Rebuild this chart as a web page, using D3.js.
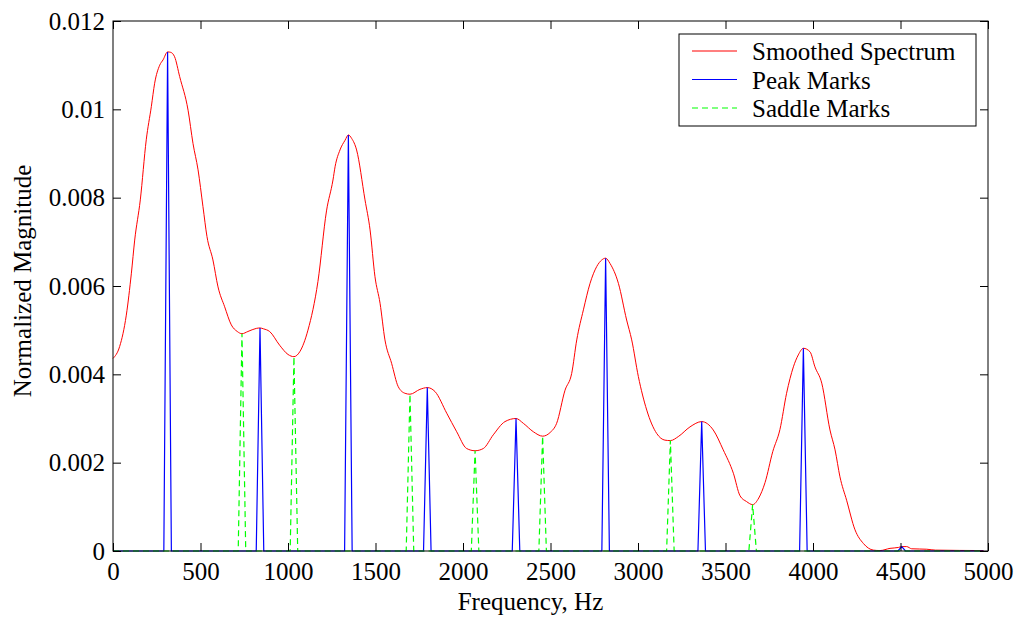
<!DOCTYPE html>
<html>
<head>
<meta charset="utf-8">
<script src="https://cdnjs.cloudflare.com/ajax/libs/d3/7.8.5/d3.min.js"></script>
<style>
  body { margin: 0; background: #fff; }
  svg text { font-family: "Liberation Serif", Tinos, "Times New Roman", Times, "DejaVu Serif", serif; fill: #000; }
</style>
</head>
<body>
<div id="chart"></div>
<script>
// Smoothed spectrum (Hz, normalized magnitude)
const specFreq = [0, 38, 76, 105, 124, 156, 190, 219, 238, 267, 286, 312, 330, 352, 381, 429, 457, 486, 514, 537,
  571, 600, 638, 676, 710, 737, 771, 819, 840, 860, 895, 952, 1000, 1034, 1067, 1114, 1171, 1220, 1257, 1269,
  1297, 1326, 1345, 1364, 1392, 1440, 1469, 1497, 1526, 1554, 1592, 1630, 1669, 1697, 1754, 1796, 1840, 1907,
  1964, 2021, 2069, 2116, 2173, 2240, 2303, 2345, 2402, 2455, 2497, 2535, 2583, 2621, 2650, 2688, 2726, 2764,
  2793, 2815, 2840, 2888, 2935, 2964, 3002, 3050, 3107, 3154, 3185, 3230, 3297, 3364, 3430, 3487, 3545, 3583,
  3620, 3655, 3690, 3726, 3770, 3811, 3849, 3888, 3916, 3945, 3983, 4011, 4050, 4097, 4126, 4154, 4192, 4240,
  4288, 4345, 4383, 4440, 4488, 4507, 4535, 4564, 4650, 4700, 4974];
const specVal = [0.00436, 0.00463, 0.00534, 0.00629, 0.00704, 0.00795, 0.00931, 0.01006, 0.01059, 0.0110, 0.01112,
  0.0113, 0.01129, 0.01119, 0.01074, 0.00998, 0.00923, 0.00863, 0.0078, 0.00712,
  0.00659, 0.00598, 0.00553, 0.00512, 0.00497, 0.00492, 0.00497, 0.00504, 0.00505, 0.00503, 0.00497, 0.00466,
  0.00445, 0.0044, 0.00451, 0.005, 0.0061, 0.0077, 0.0084, 0.0087,
  0.00908, 0.0093, 0.00942, 0.00934, 0.00908, 0.00795, 0.00727, 0.00621, 0.00561, 0.00478, 0.00425, 0.00372,
  0.00357, 0.00355, 0.00366, 0.0037, 0.00361, 0.00312,
  0.0027, 0.00232, 0.00227, 0.00232, 0.00263, 0.00293, 0.003, 0.00289, 0.0027, 0.0026, 0.00268, 0.00289, 0.00364,
  0.00402, 0.00478, 0.00546, 0.00606, 0.00644,
  0.00659, 0.00663, 0.00651, 0.00606, 0.00523, 0.00478, 0.00395, 0.00319, 0.00266, 0.00251, 0.0025, 0.00259,
  0.00281, 0.00293, 0.00274, 0.00229, 0.00176, 0.00125,
  0.00112, 0.00105, 0.0012, 0.00155, 0.00225, 0.00275, 0.00357, 0.00417, 0.00444, 0.00459, 0.00451, 0.00417,
  0.0038, 0.00274, 0.00229, 0.00168, 0.00115, 0.00048,
  0.00017, 0.00002, 0.00001, 0.00006, 0.00008, 0.0001, 0.0001, 0.00005, 0.00004, 0.00002, 0.00001];

// Peak and saddle marks
const peakFreq = [312, 840, 1345, 1796, 2303, 2815, 3364, 3945, 4507];
const peakVal = [0.0113, 0.00505, 0.00942, 0.0037, 0.003, 0.00663, 0.00293, 0.00459, 0.0001];
const saddleFreq = [737, 1034, 1697, 2069, 2455, 3185, 3655];
const saddleVal = [0.00492, 0.0044, 0.00355, 0.00227, 0.0026, 0.0025, 0.00105];

// FFT bin width (11025 Hz / 512)
const binHz = 21.53;
const lastFreq = 4974;

const xTicks = [0, 500, 1000, 1500, 2000, 2500, 3000, 3500, 4000, 4500, 5000];
const yTicks = [0, 0.002, 0.004, 0.006, 0.008, 0.01, 0.012];
const legendLabels = ["Smoothed Spectrum", "Peak Marks", "Saddle Marks"];

const margin = {top: 21, right: 33, bottom: 67, left: 113},
    width = 1021 - margin.left - margin.right,
    height = 618 - margin.top - margin.bottom;

const svg = d3.select("#chart")
  .append("svg")
    .attr("width", 1021)
    .attr("height", 618)
  .append("g")
    .attr("transform", `translate(${margin.left},${margin.top})`);

const x = d3.scaleLinear().domain([0, 5000]).range([0, width]);
const y = d3.scaleLinear().domain([0, 0.012]).range([height, 0]);

// marks series: zero everywhere except a single bin at each mark
function markSeries(freqs, vals) {
  const pts = [[0, 0]];
  freqs.forEach((f, i) => {
    pts.push([f - binHz, 0], [f, vals[i]], [f + binHz, 0]);
  });
  pts.push([lastFreq, 0]);
  return pts;
}

const line = d3.line().x(d => x(d[0])).y(d => y(d[1]));

// spectrum
svg.append("path")
  .datum(specFreq.map((f, i) => [f, specVal[i]]))
  .attr("fill", "none")
  .attr("stroke", "#ff0000")
  .attr("stroke-width", 1)
  .attr("d", line.curve(d3.curveMonotoneX));

line.curve(d3.curveLinear);

// peaks
svg.append("path")
  .datum(markSeries(peakFreq, peakVal))
  .attr("fill", "none")
  .attr("stroke", "#0000ff")
  .attr("stroke-width", 1.2)
  .attr("d", line);

// saddles
svg.append("path")
  .datum(markSeries(saddleFreq, saddleVal))
  .attr("fill", "none")
  .attr("stroke", "#00ff00")
  .attr("stroke-width", 1.2)
  .attr("stroke-dasharray", "6,4")
  .attr("d", line);

// axes with inward ticks on all sides
const tl = 8;
svg.append("g")
  .attr("transform", `translate(0,${height})`)
  .call(d3.axisBottom(x).tickValues(xTicks).tickSize(-tl).tickPadding(11).tickFormat(d3.format("d")))
  .call(g => g.select(".domain").remove());
svg.append("g")
  .call(d3.axisTop(x).tickValues(xTicks).tickSize(-tl).tickFormat(""))
  .call(g => g.select(".domain").remove());
svg.append("g")
  .call(d3.axisLeft(y).tickValues(yTicks).tickSize(-tl).tickPadding(8).tickFormat(d => d === 0 ? "0" : d3.format("")(+d.toFixed(3))))
  .call(g => g.select(".domain").remove());
svg.append("g")
  .attr("transform", `translate(${width},0)`)
  .call(d3.axisRight(y).tickValues(yTicks).tickSize(-tl).tickFormat(""))
  .call(g => g.select(".domain").remove());

svg.selectAll(".tick text")
  .attr("font-family", null)
  .style("font-size", "25px")
  .attr("fill", "#000");
svg.selectAll("g").attr("font-family", null);
svg.selectAll(".tick line").attr("stroke", "#000");

svg.append("rect")
  .attr("width", width)
  .attr("height", height)
  .attr("fill", "none")
  .attr("stroke", "#000")
  .attr("stroke-width", 1);

// axis labels
svg.append("text")
  .attr("x", width / 2 - 20)
  .attr("y", height + 59)
  .attr("text-anchor", "middle")
  .style("font-size", "25px")
  .text("Frequency, Hz");

svg.append("text")
  .attr("transform", "rotate(-90)")
  .attr("x", -height / 2 + 5)
  .attr("y", 31 - margin.left)
  .attr("text-anchor", "middle")
  .style("font-size", "25px")
  .text("Normalized Magnitude");

// legend
const legend = svg.append("g").attr("transform", `translate(${679 - margin.left},${34 - margin.top})`);
legend.append("rect")
  .attr("width", 297)
  .attr("height", 92)
  .attr("fill", "#fff")
  .attr("stroke", "#000");
const legColors = ["#ff0000", "#0000ff", "#00ff00"];
legendLabels.forEach((lab, i) => {
  const ly = 17 + i * 28.5;
  legend.append("line")
    .attr("x1", 13).attr("x2", 58)
    .attr("y1", ly).attr("y2", ly)
    .attr("stroke", legColors[i])
    .attr("stroke-width", 1.2)
    .attr("stroke-dasharray", i === 2 ? "6,4" : null);
  legend.append("text")
    .attr("x", 73)
    .attr("y", ly + 9)
    .style("font-size", "25px")
    .text(lab);
});
</script>
</body>
</html>
